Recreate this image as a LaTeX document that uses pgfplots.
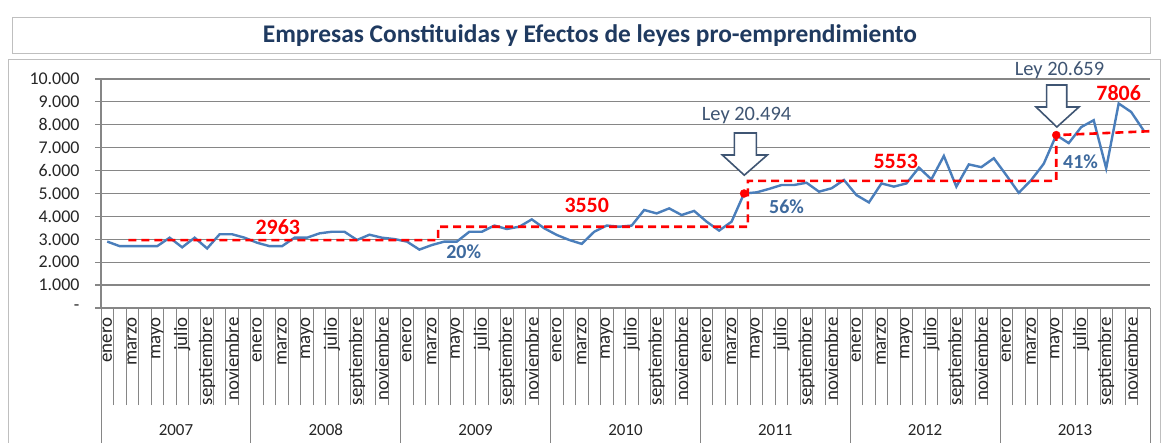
\documentclass[border=0pt]{standalone}
\usepackage{fontspec}
\setmainfont{Carlito}
\usepackage{pgfplots}
\pgfplotsset{compat=1.18}
\definecolor{gridgray}{HTML}{868686}
\definecolor{boxgray}{HTML}{BFBFBF}
\definecolor{linecol}{HTML}{4A7EBB}
\definecolor{titleblue}{HTML}{1F3A60}
\definecolor{leyblue}{HTML}{3F5573}
\definecolor{pctblue}{HTML}{3E6A9E}
\begin{document}
\begin{tikzpicture}
\useasboundingbox (0bp,0bp) rectangle (1162bp,443bp);
\fill[white] (0bp,0bp) rectangle (1162bp,443bp);
% title box
\draw[boxgray, line width=1bp] (12bp,389bp) rectangle (1150bp,425bp);
\node[font=\fontsize{25.5}{28}\selectfont\bfseries, text=titleblue] at (590bp,407bp) {Empresas Constituidas y Efectos de leyes pro-emprendimiento};
% chart box
\draw[boxgray, line width=1bp] (8bp,-5bp) -- (8bp,383bp) -- (1160bp,383bp) -- (1160bp,-5bp);
\begin{axis}[
  at={(101bp,135bp)}, anchor=south west,
  scale only axis, width=1049bp, height=229bp,
  xmin=-0.5, xmax=83.5, ymin=0, ymax=10000,
  clip=false,
  scaled y ticks=false,
  axis x line*=bottom, axis y line*=left,
  axis line style={draw=gridgray, line width=1.2bp},
  ymajorgrids, major grid style={gridgray, line width=1.2bp},
  ytick={0,1000,2000,3000,4000,5000,6000,7000,8000,9000,10000},
  yticklabels={-\hspace{22bp},1.000,2.000,3.000,4.000,5.000,6.000,7.000,8.000,9.000,10.000},
  yticklabel style={font=\fontsize{18}{20}\selectfont, text=black!85, anchor=east, xshift=-12bp},
  tick align=outside,
  major tick length=6bp,
  major y tick style={gridgray, line width=1.2bp},
  xtick={0,2,...,82},
  xticklabels={enero,marzo,mayo,julio,septiembre,noviembre,enero,marzo,mayo,julio,septiembre,noviembre,enero,marzo,mayo,julio,septiembre,noviembre,enero,marzo,mayo,julio,septiembre,noviembre,enero,marzo,mayo,julio,septiembre,noviembre,enero,marzo,mayo,julio,septiembre,noviembre,enero,marzo,mayo,julio,septiembre,noviembre},
  xticklabel style={rotate=90, anchor=east, font=\fontsize{19}{20}\selectfont, text=black!85},
  major x tick style={draw=none},
  minor xtick={-0.5,0.5,...,83.5},
  minor tick length=97bp,
  minor x tick style={gridgray, line width=0.8bp},
]
\addplot[linecol, line width=2.4bp] coordinates {
(0,2900) (1,2700) (2,2700) (3,2700) (4,2700) (5,3070) (6,2650) (7,3070) (8,2600) (9,3220) (10,3220) (11,3070)
(12,2850) (13,2700) (14,2700) (15,3070) (16,3070) (17,3260) (18,3330) (19,3330) (20,2970) (21,3200) (22,3070) (23,3010)
(24,2900) (25,2550) (26,2750) (27,2900) (28,2900) (29,3330) (30,3330) (31,3600) (32,3450) (33,3550) (34,3870) (35,3480)
(36,3190) (37,2970) (38,2800) (39,3330) (40,3600) (41,3550) (42,3600) (43,4280) (44,4130) (45,4350) (46,4060) (47,4240)
(48,3770) (49,3380) (50,3770) (51,5000) (52,5050) (53,5200) (54,5370) (55,5370) (56,5470) (57,5080) (58,5226) (59,5590)
(60,4930) (61,4610) (62,5440) (63,5300) (64,5440) (65,6130) (66,5620) (67,6640) (68,5300) (69,6270) (70,6150) (71,6540)
(72,5800) (73,5030) (74,5590) (75,6300) (76,7550) (77,7200) (78,7900) (79,8200) (80,6100) (81,8930) (82,8560) (83,7750)
};
\addplot[red, line width=2.6bp, dash pattern=on 8bp off 5bp] coordinates {(1.7,2963) (26.5,2963) (26.5,3550) (51.3,3550) (51.3,5553) (76,5553) (76,7550) (83.5,7720)};
\addplot[only marks, mark=*, mark size=4bp, red] coordinates {(51,5000) (76,7550)};
% year separators
\draw[gridgray, line width=0.8bp] (axis cs:-0.5,0) -- ([yshift=-140bp]axis cs:-0.5,0);
\draw[gridgray, line width=0.8bp] (axis cs:11.5,0) -- ([yshift=-140bp]axis cs:11.5,0);
\draw[gridgray, line width=0.8bp] (axis cs:23.5,0) -- ([yshift=-140bp]axis cs:23.5,0);
\draw[gridgray, line width=0.8bp] (axis cs:35.5,0) -- ([yshift=-140bp]axis cs:35.5,0);
\draw[gridgray, line width=0.8bp] (axis cs:47.5,0) -- ([yshift=-140bp]axis cs:47.5,0);
\draw[gridgray, line width=0.8bp] (axis cs:59.5,0) -- ([yshift=-140bp]axis cs:59.5,0);
\draw[gridgray, line width=0.8bp] (axis cs:71.5,0) -- ([yshift=-140bp]axis cs:71.5,0);
\draw[gridgray, line width=0.8bp] (axis cs:83.5,0) -- ([yshift=-140bp]axis cs:83.5,0);
% year labels
\node[font=\fontsize{17}{20}\selectfont, text=black!85] at ([yshift=-122bp]axis cs:5.5,0) {2007};
\node[font=\fontsize{17}{20}\selectfont, text=black!85] at ([yshift=-122bp]axis cs:17.5,0) {2008};
\node[font=\fontsize{17}{20}\selectfont, text=black!85] at ([yshift=-122bp]axis cs:29.5,0) {2009};
\node[font=\fontsize{17}{20}\selectfont, text=black!85] at ([yshift=-122bp]axis cs:41.5,0) {2010};
\node[font=\fontsize{17}{20}\selectfont, text=black!85] at ([yshift=-122bp]axis cs:53.5,0) {2011};
\node[font=\fontsize{17}{20}\selectfont, text=black!85] at ([yshift=-122bp]axis cs:65.5,0) {2012};
\node[font=\fontsize{17}{20}\selectfont, text=black!85] at ([yshift=-122bp]axis cs:77.5,0) {2013};
% annotations
\node[text=red, font=\fontsize{22}{24}\selectfont\bfseries] at (axis cs:13.66,3537) {2963};
\node[text=red, font=\fontsize{22}{24}\selectfont\bfseries] at (axis cs:38.4,4467) {3550};
\node[text=red, font=\fontsize{22}{24}\selectfont\bfseries] at (axis cs:63.15,6389) {5553};
\node[text=red, font=\fontsize{22}{24}\selectfont\bfseries] at (axis cs:81.0,9389) {7806};
\node[text=pctblue, font=\fontsize{20}{24}\selectfont\bfseries] at (axis cs:28.55,2445) {20\%};
\node[text=pctblue, font=\fontsize{20}{24}\selectfont\bfseries] at (axis cs:54.4,4410) {56\%};
\node[text=pctblue, font=\fontsize{20}{24}\selectfont\bfseries] at (axis cs:77.95,6389) {41\%};
\node[text=leyblue, font=\fontsize{20.5}{24}\selectfont] at (axis cs:51.2,8384) {Ley 20.494};
\node[text=leyblue, font=\fontsize{20.5}{24}\selectfont] at (axis cs:76.26,10393) {Ley 20.659};
% arrows
\draw[leyblue, line width=1.6bp, fill=white, line join=miter]
  (axis cs:50.22,7640) -- (axis cs:51.98,7640) -- (axis cs:51.98,6680) -- (axis cs:52.86,6680)
  -- (axis cs:51.02,5800) -- (axis cs:49.26,6680) -- (axis cs:50.22,6680) -- cycle;
\draw[leyblue, line width=1.6bp, fill=white, line join=miter]
  (axis cs:75.23,9738) -- (axis cs:76.84,9738) -- (axis cs:76.84,8777) -- (axis cs:77.82,8777)
  -- (axis cs:76.05,7904) -- (axis cs:74.38,8777) -- (axis cs:75.23,8777) -- cycle;
\end{axis}
\end{tikzpicture}
\end{document}
